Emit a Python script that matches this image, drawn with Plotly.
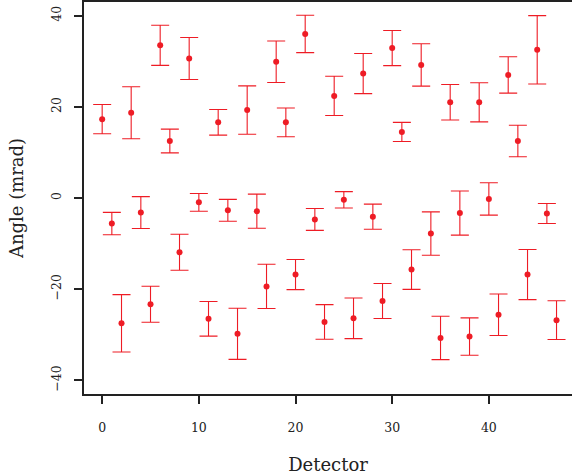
import plotly.graph_objects as go

detector = list(range(48))
angle = [17.3, -5.6, -27.5, 18.7, -3.2, -23.3, 33.5, 12.5, -11.9, 30.6,
         -0.95, -26.5, 16.6, -2.7, -29.8, 19.3, -2.9, -19.4, 29.9, 16.6,
         -16.8, 36.0, -4.7, -27.2, 22.4, -0.4, -26.4, 27.3, -4.1, -22.6,
         32.9, 14.5, -15.7, 29.2, -7.8, -30.7, 21.0, -3.3, -30.4, 21.0,
         -0.2, -25.6, 27.0, 12.5, -16.8, 32.5, -3.4, -26.8]
error = [3.2, 2.45, 6.3, 5.7, 3.5, 3.95, 4.4, 2.6, 3.95, 4.6,
         1.95, 3.8, 2.8, 2.4, 5.6, 5.3, 3.75, 4.85, 4.55, 3.15,
         3.3, 4.1, 2.4, 3.8, 4.3, 1.8, 4.45, 4.4, 2.75, 3.85,
         3.85, 2.1, 4.35, 4.65, 4.75, 4.75, 3.9, 4.85, 4.1, 4.3,
         3.55, 4.55, 4.0, 3.45, 5.5, 7.5, 2.2, 4.25]
x_ticks = [0, 10, 20, 30, 40]
y_ticks = [-40, -20, 0, 20, 40]

red = "#ee1c25"
ff = "DejaVu Serif"
ink = "#222222"

fig = go.Figure(go.Scatter(
    x=detector, y=angle, mode="markers",
    marker=dict(color=red, size=6),
    error_y=dict(type="data", array=error, visible=True, color=red,
                 thickness=1.1, width=9),
))

fig.update_layout(
    width=572, height=476,
    margin=dict(l=84, r=0, t=2, b=82),
    paper_bgcolor="white", plot_bgcolor="white",
    showlegend=False,
    font=dict(family=ff, color=ink, size=12.5),
)
fig.update_xaxes(
    range=[-1.88, 48.6], tickvals=x_ticks, showgrid=False, zeroline=False,
    showline=True, mirror=True, linecolor=ink, linewidth=1.5,
    ticks="outside", ticklen=8, tickwidth=1.5, tickcolor=ink,
    ticklabelstandoff=13, automargin=False,
    tickfont=dict(family=ff, size=12.5, color=ink),
    title=dict(text="Detector", font=dict(family=ff, size=18, color=ink), standoff=25),
)
fig.update_yaxes(
    range=[-43, 43], tickvals=y_ticks, showgrid=False, zeroline=False,
    showline=True, linecolor=ink, linewidth=1.5,
    ticks="outside", ticklen=8, tickwidth=1.5, tickcolor=ink,
    tickangle=-90, ticklabelstandoff=8, automargin=False,
    tickfont=dict(family=ff, size=12.5, color=ink),
    title=dict(text="Angle (mrad)", font=dict(family=ff, size=18, color=ink), standoff=21),
)

fig.write_html(
    "out.html",
    config={"displayModeBar": False},
    post_script="document.body.style.margin='0px';document.body.style.padding='0px';",
)
